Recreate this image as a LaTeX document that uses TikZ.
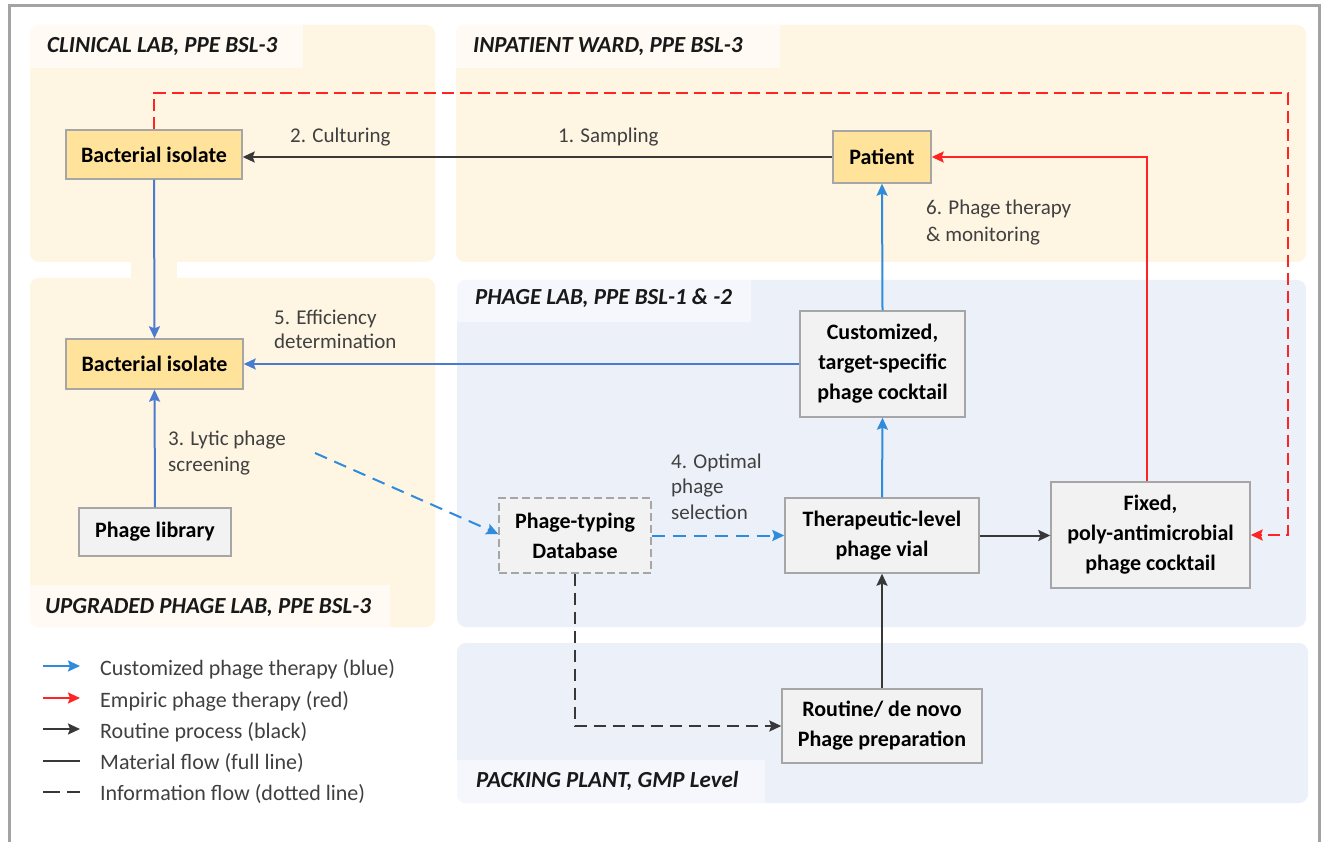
\documentclass[tikz,border=0pt]{standalone}
\usepackage{fontspec}
\setmainfont{Carlito}
\usetikzlibrary{arrows.meta,calc}
\definecolor{regY}{HTML}{FEF5E3}
\definecolor{labY}{HTML}{FFFBF4}
\definecolor{regB}{HTML}{ECF0F8}
\definecolor{labB}{HTML}{F5F7FC}
\definecolor{nodeY}{HTML}{FFE39B}
\definecolor{nodeG}{HTML}{F2F2F2}
\definecolor{bordG}{HTML}{A6A6A6}
\definecolor{blueA}{HTML}{4A7BD0}
\definecolor{blueB}{HTML}{2F8BDB}
\definecolor{redA}{HTML}{FF2424}
\definecolor{blk}{HTML}{383838}
\definecolor{txt}{HTML}{404040}
\definecolor{frameG}{HTML}{A3A3A3}
\tikzset{
  box/.style={draw=bordG, line width=1.4pt, fill=nodeG, align=center, inner sep=0pt,
    font=\fontsize{22}{30}\selectfont\bfseries, text=black},
  ybox/.style={box, fill=nodeY},
  reglabel/.style={anchor=base west, font=\fontsize{23}{25}\selectfont\bfseries\itshape, text=black!90, inner sep=0pt},
  elabel/.style={anchor=base west, font=\fontsize{21}{25}\selectfont, text=txt, inner sep=0pt},
  leglabel/.style={anchor=base west, font=\fontsize{22}{25}\selectfont, text=txt, inner sep=0pt},
  tip/.style={-{Stealth[length=12pt,width=11pt,inset=2pt]}},
  flowA/.style={tip, draw=blueA, line width=2pt},
  flowB/.style={tip, draw=blueB, line width=2pt},
  flowBd/.style={tip, draw=blueB, line width=2pt, dash pattern=on 13pt off 8pt},
  flowR/.style={tip, draw=redA, line width=2pt},
  flowRd/.style={tip, draw=redA, line width=2pt, dash pattern=on 12pt off 6pt},
  flowK/.style={tip, draw=blk, line width=2pt},
  flowKd/.style={tip, draw=blk, line width=2pt, dash pattern=on 12pt off 7pt},
}
\begin{document}
\begin{tikzpicture}[x=1pt,y=-1pt]
\useasboundingbox (0,0) rectangle (1325,842);
\fill[white] (0,0) rectangle (1325,842);
% frame
\draw[frameG, line width=3pt] (9,842) -- (9,6) -- (1319,6) -- (1319,842);

% regions
\fill[regY] (131,258) rectangle (177,282);
\fill[regY, rounded corners=9pt] (30,25) rectangle (435,262);
\fill[regY, rounded corners=9pt] (456,25) rectangle (1306,262);
\fill[regY, rounded corners=9pt] (30,278) rectangle (435,627);
\fill[regB, rounded corners=9pt] (457,280) rectangle (1306,627);
\fill[regB, rounded corners=9pt] (457,643) rectangle (1308,803);
\begin{scope}
  \clip[rounded corners=9pt] (30,25) rectangle (435,262);
  \fill[labY] (30,25) rectangle (303,68);
\end{scope}
\begin{scope}
  \clip[rounded corners=9pt] (456,25) rectangle (1306,262);
  \fill[labY] (456,25) rectangle (780,68);
\end{scope}
\begin{scope}
  \clip[rounded corners=9pt] (457,280) rectangle (1306,627);
  \fill[labB] (457,280) rectangle (751,322);
\end{scope}
\begin{scope}
  \clip[rounded corners=9pt] (30,278) rectangle (435,627);
  \fill[labY] (30,585) rectangle (390,627);
\end{scope}
\begin{scope}
  \clip[rounded corners=9pt] (457,643) rectangle (1308,803);
  \fill[labB] (457,760) rectangle (765,803);
\end{scope}

% region labels
\node[reglabel] (rl1) at (47,53) {CLINICAL LAB, PPE BSL-3};
\node[reglabel] (rl2) at (473,53) {INPATIENT WARD, PPE BSL-3};
\node[reglabel] (rl3) at (475,305) {PHAGE LAB, PPE BSL-1 \& -2};
\node[reglabel] (rl4) at (45,613) {UPGRADED PHAGE LAB, PPE BSL-3};
\node[reglabel] (rl5) at (476,787) {PACKING PLANT, GMP Level};

% boxes
\node[ybox, minimum width=176pt, minimum height=49pt] (bi1) at (154,154.5) {Bacterial isolate};
\node[ybox, minimum width=177pt, minimum height=50pt] (bi2) at (154.5,364) {Bacterial isolate};
\node[ybox, minimum width=98pt, minimum height=52pt] (pat) at (882,157) {Patient};
\node[box, minimum width=152pt, minimum height=48pt] (lib) at (155,532) {Phage library};
\node[box, dashed, dash pattern=on 8pt off 4pt, minimum width=152pt, minimum height=75pt] (db) at (575,535.5) {Phage-typing\\Database};
\node[box, minimum width=194pt, minimum height=75pt] (ther) at (882,535.5) {Therapeutic-level\\phage vial};
\node[box, minimum width=165pt, minimum height=106pt] (cust) at (882.5,364) {Customized,\\target-specific\\phage cocktail};
\node[box, minimum width=199pt, minimum height=106pt] (fix) at (1150.5,535) {Fixed,\\poly-antimicrobial\\phage cocktail};
\node[box, minimum width=200pt, minimum height=74pt] (rout) at (882,726) {Routine/ de novo\\Phage preparation};

% helper coordinates
\coordinate (rc) at (1288,93);
\coordinate (scr) at (315,453);

% connectors
\draw[flowK] (pat.west) -- (pat.west -| bi1.east);
\draw[flowRd] (bi1.north) |- (rc) |- (fix.east);
\draw[flowR] ([xshift=-3.5pt]fix.north) |- (pat.east);
\draw[flowB] (cust.north) -- (pat.south);
\draw[flowA] (bi1.south) -- (bi2.north);
\draw[flowA] (lib.north) -- (bi2.south);
\draw[flowA] (cust.west) -- (bi2.east);
\draw[flowB] (ther.north) -- (cust.south);
\draw[flowBd] (scr) -- ([yshift=1.5pt]db.west);
\draw[flowBd] (db.east) -- (ther.west);
\draw[flowK] (ther.east) -- (ther.east -| fix.west);
\draw[flowK] (rout.north) -- (ther.south);
\draw[flowKd] (db.south) |- (rout.west);

% edge labels
\node[elabel] (e2) at (290,143) {2. Culturing};
\node[elabel] (e1) at (558,143) {1. Sampling};
\node[elabel] (e6a) at (926,215) {6. Phage therapy};
\node[elabel] (e6b) at (926,242) {\& monitoring};
\node[elabel] (e5a) at (274,324) {5. Efficiency};
\node[elabel] (e5b) at (274,348) {determination};
\node[elabel] (e3a) at (168,445) {3. Lytic phage};
\node[elabel] (e3b) at (168,471) {screening};
\node[elabel] (e4a) at (671,468) {4. Optimal};
\node[elabel] (e4b) at (671,493) {phage};
\node[elabel] (e4c) at (671,519) {selection};

% legend
\coordinate (la1) at (43,666); \coordinate (lb1) at (80,666);
\coordinate (la2) at (43,698); \coordinate (lb2) at (80,698);
\coordinate (la3) at (43,729); \coordinate (lb3) at (80,729);
\coordinate (la4) at (43,761); \coordinate (lb4) at (80,761);
\coordinate (la5) at (43,792); \coordinate (lb5) at (80,792);
\draw[flowB] (la1) -- (lb1);
\draw[flowR] (la2) -- (lb2);
\draw[flowK] (la3) -- (lb3);
\draw[blk, line width=2pt] (la4) -- (lb4);
\draw[blk, line width=2pt, dash pattern=on 17pt off 7pt] (la5) -- (lb5);
\node[leglabel] (lt1) at (100,675) {Customized phage therapy (blue)};
\node[leglabel] (lt2) at (100,707) {Empiric phage therapy (red)};
\node[leglabel] (lt3) at (100,738) {Routine process (black)};
\node[leglabel] (lt4) at (100,769) {Material flow (full line)};
\node[leglabel] (lt5) at (100,800) {Information flow (dotted line)};
\end{tikzpicture}
\end{document}
